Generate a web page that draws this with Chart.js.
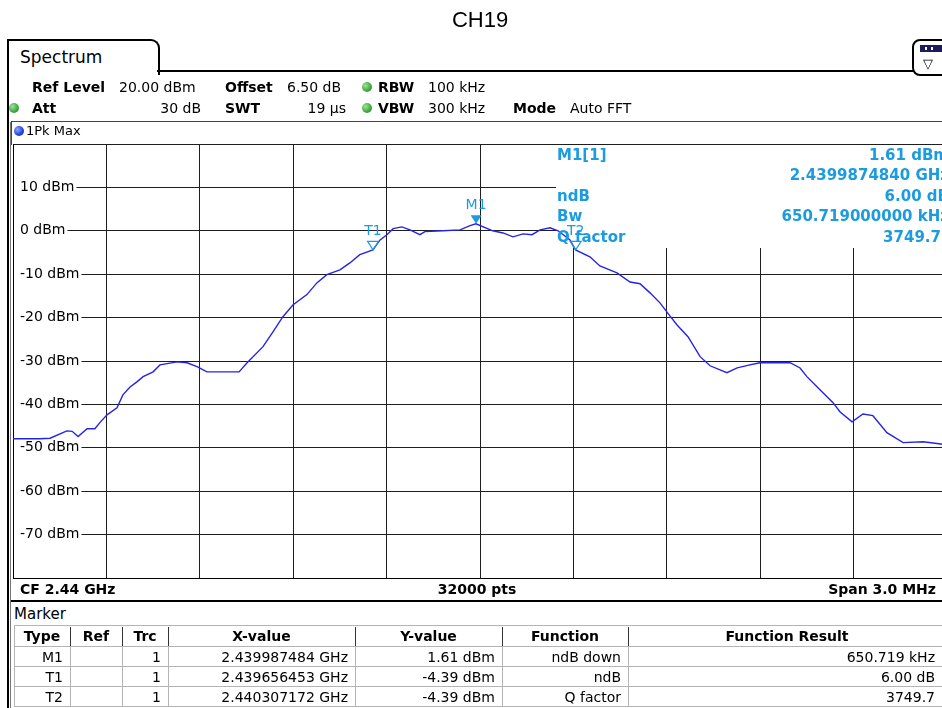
<!DOCTYPE html>
<html>
<head>
<meta charset="utf-8">
<script src="https://cdn.jsdelivr.net/npm/chart.js@4.4.1/dist/chart.umd.min.js"></script>
<style>
html,body{margin:0;padding:0;background:#fff;}
body{width:942px;height:708px;overflow:hidden;position:relative;}
#wrap{position:absolute;left:0;top:0;width:950px;height:600px;}
.t{position:absolute;white-space:nowrap;font-family:"DejaVu Sans",sans-serif;font-size:14px;height:18px;line-height:18px;color:#000;}
.b{font-weight:bold;}
.r{text-align:right;}
.c{text-align:center;}
.mk{color:#1b9be0;font-weight:bold;font-size:15px;}
.ln{position:absolute;background:#000;}
.dot{position:absolute;width:10px;height:10px;border-radius:50%;background:radial-gradient(circle at 35% 35%,#9be39b,#3fa53f 60%,#2f7f2f);}
.cell{position:absolute;box-sizing:border-box;border:1px solid #b4b4b4;}
</style>
</head>
<body>
<div id="wrap"><canvas id="c" width="950" height="600"></canvas></div>
<div id="overlay"></div>
<script>
// ---------------- data ----------------
const chartTitle = 'CH19';
const centerMHz = 2440.0;
const spanMHz = 3.0;
const freqMHz = [
  2438.500, 2438.587, 2438.619, 2438.673, 2438.690, 2438.709, 2438.738, 2438.763,
  2438.779, 2438.802, 2438.834, 2438.853, 2438.876, 2438.898, 2438.918, 2438.950,
  2438.972, 2438.995, 2439.027, 2439.059, 2439.091, 2439.123, 2439.142, 2439.187,
  2439.226, 2439.252, 2439.303, 2439.335, 2439.367, 2439.399, 2439.444, 2439.476,
  2439.508, 2439.550, 2439.582, 2439.614, 2439.656, 2439.679, 2439.701, 2439.721,
  2439.749, 2439.775, 2439.807, 2439.823, 2439.881, 2439.936, 2439.968, 2439.987,
  2440.041, 2440.074, 2440.106, 2440.138, 2440.167, 2440.193, 2440.225, 2440.251,
  2440.289, 2440.307, 2440.353, 2440.385, 2440.440, 2440.482, 2440.514, 2440.546,
  2440.578, 2440.610, 2440.633, 2440.668, 2440.707, 2440.739, 2440.793, 2440.826,
  2440.867, 2440.899, 2440.996, 2441.028, 2441.050, 2441.092, 2441.134, 2441.156,
  2441.195, 2441.230, 2441.262, 2441.307, 2441.359, 2441.423, 2441.500
];
const levelDbm = [
  -47.9, -47.9, -47.8, -46.1, -46.2, -47.4, -45.6, -45.6,
  -44.2, -42.4, -40.8, -37.8, -36.0, -34.8, -33.6, -32.5,
  -30.9, -30.6, -30.2, -30.4, -31.3, -32.5, -32.5, -32.5,
  -32.5, -30.4, -26.7, -23.3, -19.8, -17.1, -14.7, -12.0,
  -10.1, -9.0, -7.4, -5.5, -4.4, -2.1, -0.9, 0.5,
  0.9, 0.2, -0.9, -0.2, 0.0, 0.2, 1.2, 1.6,
  0.0, -0.5, -1.4, -0.7, -0.9, 0.2, 0.7, 0.0,
  -2.1, -4.4, -6.0, -8.1, -9.7, -11.8, -12.2, -14.3,
  -16.6, -19.6, -21.7, -24.4, -29.0, -31.1, -32.7, -31.6,
  -30.9, -30.4, -30.4, -31.6, -33.6, -36.6, -39.6, -41.7,
  -44.0, -42.2, -42.6, -46.5, -48.8, -48.6, -49.3
];
const yMin = -80, yMax = 20;
const yGridDbm = [20, 10, 0, -10, -20, -30, -40, -50, -60, -70, -80];
const yTickLabelDbm = [10, 0, -10, -20, -30, -40, -50, -60, -70];
const markerNames = ['M1', 'T1', 'T2'];
const markerFreqMHz = [2439.987484, 2439.656453, 2440.307172];
const markerLevelDbm = [1.61, -4.39, -4.39];
const markerFilled = [true, false, false];
const infoLeft = ['M1[1]', '', 'ndB', 'Bw', 'Q factor'];
const infoRight = ['1.61 dBm', '2.4399874840 GHz', '6.00 dB', '650.719000000 kHz', '3749.7'];
const tableHeader = ['Type', 'Ref', 'Trc', 'X-value', 'Y-value', 'Function', 'Function Result'];
const tableRows = [
  ['M1', '', '1', '2.439987484 GHz', '1.61 dBm', 'ndB down', '650.719 kHz'],
  ['T1', '', '1', '2.439656453 GHz', '-4.39 dBm', 'ndB', '6.00 dB'],
  ['T2', '', '1', '2.440307172 GHz', '-4.39 dBm', 'Q factor', '3749.7']
];
// ---------------------------------------

const TRACE = '#2424e8';
const MARK = '#1b9be0';
const xMin = centerMHz - spanMHz / 2, xMax = centerMHz + spanMHz / 2;
const xGridMHz = [];
for (let i = 0; i <= 10; i++) xGridMHz.push(xMin + i * spanMHz / 10);

const ov = document.getElementById('overlay');
function el(cls, style, text) {
  const d = document.createElement('div');
  d.className = cls;
  Object.assign(d.style, style);
  if (text !== undefined) d.textContent = text;
  ov.appendChild(d);
  return d;
}
function txt(x, cy, s, cls, extra) {
  return el('t ' + (cls || ''), Object.assign({left: x + 'px', top: (cy - 9) + 'px'}, extra || {}), s);
}
function txtR(xr, cy, s, cls, extra) {
  return el('t r ' + (cls || ''), Object.assign({left: (xr - 400) + 'px', width: '400px', top: (cy - 9) + 'px'}, extra || {}), s);
}
function txtC(xc, cy, s, cls, extra) {
  return el('t c ' + (cls || ''), Object.assign({left: (xc - 200) + 'px', width: '400px', top: (cy - 9) + 'px'}, extra || {}), s);
}
function line(x, y, w, h, col) {
  return el('ln', {left: x + 'px', top: y + 'px', width: w + 'px', height: h + 'px', background: col || '#000'});
}

// plugin: mask for marker info area + markers
const markerPlugin = {
  id: 'markers',
  beforeDatasetsDraw(chart) {
    const {ctx, chartArea} = chart;
    ctx.save();
    ctx.fillStyle = '#fff';
    ctx.fillRect(556, chartArea.top + 1, chartArea.right - 556 + 5, 248 - chartArea.top - 1);
    ctx.restore();
  },
  afterDatasetsDraw(chart) {
    const {ctx, scales} = chart;
    ctx.save();
    for (let i = 0; i < markerNames.length; i++) {
      const px = scales.x.getPixelForValue(markerFreqMHz[i]);
      const py = scales.y.getPixelForValue(markerLevelDbm[i]);
      ctx.beginPath();
      ctx.moveTo(px - 5.5, py - 8.5);
      ctx.lineTo(px + 5.5, py - 8.5);
      ctx.lineTo(px, py);
      ctx.closePath();
      ctx.strokeStyle = MARK;
      ctx.fillStyle = MARK;
      ctx.lineWidth = 1.2;
      if (markerFilled[i]) ctx.fill(); else ctx.stroke();
      ctx.font = '14px "DejaVu Sans"';
      ctx.textAlign = 'center';
      ctx.textBaseline = 'middle';
      ctx.fillText(markerNames[i], px, py - 18);
    }
    ctx.restore();
  }
};

const gridOpts = {color: '#1e1e1e', lineWidth: 1, drawTicks: false};
const zeroWidth = s => { s.width = 0; };
new Chart(document.getElementById('c'), {
  type: 'line',
  data: {
    datasets: [{
      data: freqMHz.map((f, i) => ({x: f, y: levelDbm[i]})),
      borderColor: TRACE,
      borderWidth: 1.4,
      pointRadius: 0,
      tension: 0,
      fill: false
    }]
  },
  options: {
    responsive: false,
    animation: false,
    layout: {padding: {left: 13, top: 144, right: 3, bottom: 22}},
    plugins: {legend: {display: false}, tooltip: {enabled: false}, title: {display: false}},
    scales: {
      x: {
        type: 'linear', min: xMin, max: xMax,
        afterBuildTicks: s => { s.ticks = xGridMHz.map(v => ({value: v})); },
        afterFit: s => { s.height = 0; },
        ticks: {display: false},
        grid: gridOpts,
        border: {display: true, color: '#000', width: 1}
      },
      y: {
        type: 'linear', position: 'left', min: yMin, max: yMax,
        afterBuildTicks: s => { s.ticks = yGridDbm.map(v => ({value: v})); },
        afterFit: zeroWidth,
        ticks: {display: false},
        grid: gridOpts,
        border: {display: true, color: '#000', width: 1}
      },
      yl: {
        type: 'linear', position: 'left', min: yMin, max: yMax,
        afterBuildTicks: s => { s.ticks = yTickLabelDbm.map(v => ({value: v})); },
        afterFit: zeroWidth,
        ticks: {
          mirror: true, padding: 7, color: '#000',
          font: {family: 'DejaVu Sans', size: 14},
          showLabelBackdrop: true, backdropColor: '#fff',
          backdropPadding: {left: 6, right: 2, top: 1, bottom: 1},
          callback: v => v + ' dBm'
        },
        grid: {display: false, drawTicks: false},
        border: {display: false}
      }
    }
  },
  plugins: [markerPlugin]
});

// ---------- surrounding instrument frame ----------
txtC(480, 20, chartTitle, '', {fontFamily: '"Liberation Sans",Arial,sans-serif', fontSize: '22px', height: '26px', lineHeight: '26px', top: '7px'});

// tab
el('', {position: 'absolute', left: '7px', top: '39px', width: '149px', height: '34px', border: '2px solid #000', borderBottom: 'none', borderTopRightRadius: '9px', background: '#fff'});
txt(20, 57, 'Spectrum', '', {fontSize: '17px'});
line(157, 70, 757, 2);
// right icon box
el('', {position: 'absolute', left: '912px', top: '39px', width: '40px', height: '33px', border: '2px solid #000', borderTopLeftRadius: '8px', borderBottomLeftRadius: '8px', background: '#fff'});
el('', {position: 'absolute', left: '920px', top: '45px', width: '22px', height: '7px', background: '#1c1c5c'});
el('', {position: 'absolute', left: '925px', top: '47px', width: '2px', height: '3px', background: '#fff'});
el('', {position: 'absolute', left: '931px', top: '47px', width: '2px', height: '3px', background: '#fff'});
txt(923, 64, '\u25BD', '', {fontSize: '13px'});
// left frame
line(7, 72, 2, 636);
line(10, 122, 1, 586, '#777');

// header rows
txt(32, 87, 'Ref Level', 'b');
txt(119, 87, '20.00 dBm');
txt(225, 87, 'Offset', 'b');
txt(287, 87, '6.50 dB');
el('dot', {left: '362px', top: '82px'});
txt(378, 87, 'RBW', 'b');
txt(428, 87, '100 kHz');
el('dot', {left: '9px', top: '103px'});
txt(32, 108, 'Att', 'b');
txtR(201, 108, '30 dB');
txt(225, 108, 'SWT', 'b');
txtR(346, 108, '19 \u00B5s');
el('dot', {left: '362px', top: '103px'});
txt(378, 108, 'VBW', 'b');
txt(428, 108, '300 kHz');
txt(513, 108, 'Mode', 'b');
txt(570, 108, 'Auto FFT');

// trace bar
line(11, 121, 940, 1, '#444');
line(11, 121, 1, 24, '#444');
el('', {position: 'absolute', left: '14px', top: '126px', width: '10px', height: '10px', borderRadius: '50%', background: 'radial-gradient(circle at 35% 35%,#8fa8ff,#1f3fe0 60%,#10208a)'});
txt(26, 131, '1Pk Max', '', {fontSize: '13px'});

// marker info box text
const infoY = [155, 175, 196, 216, 237];
for (let i = 0; i < infoY.length; i++) {
  if (infoLeft[i]) txt(557, infoY[i], infoLeft[i], 'mk');
  txtR(i === 4 ? 941 : 949, infoY[i], infoRight[i], 'mk');
}

// bottom bar
txt(20, 589, 'CF 2.44 GHz', 'b');
txtC(477, 589, '32000 pts', 'b');
txtR(936, 589, 'Span 3.0 MHz', 'b');
line(11, 600, 940, 2);

// marker table
txt(14, 614, 'Marker', '', {fontSize: '15px'});
const colX = [14, 70, 122, 168, 355, 502, 628, 960];
line(14, 625, 940, 1, '#b4b4b4');
for (let c = 0; c < tableHeader.length; c++) {
  const xc = (colX[c] + colX[c + 1]) / 2;
  txtC(c === 6 ? 787 : xc, 636, tableHeader[c], 'b');
  if (c > 0) line(colX[c], 627, 1, 19, '#333');
}
line(14, 625, 1, 82, '#b4b4b4');
for (let r = 0; r < tableRows.length; r++) {
  const top = 646 + r * 20;
  for (let c = 0; c < tableRows[r].length; c++) {
    el('cell', {left: colX[c] + 'px', top: top + 'px', width: (colX[c + 1] - colX[c] + 1) + 'px', height: '21px'});
    const xr = c === 6 ? 935 : colX[c + 1] - 7;
    txtR(xr, top + 11, tableRows[r][c]);
  }
}
</script>
</body>
</html>
